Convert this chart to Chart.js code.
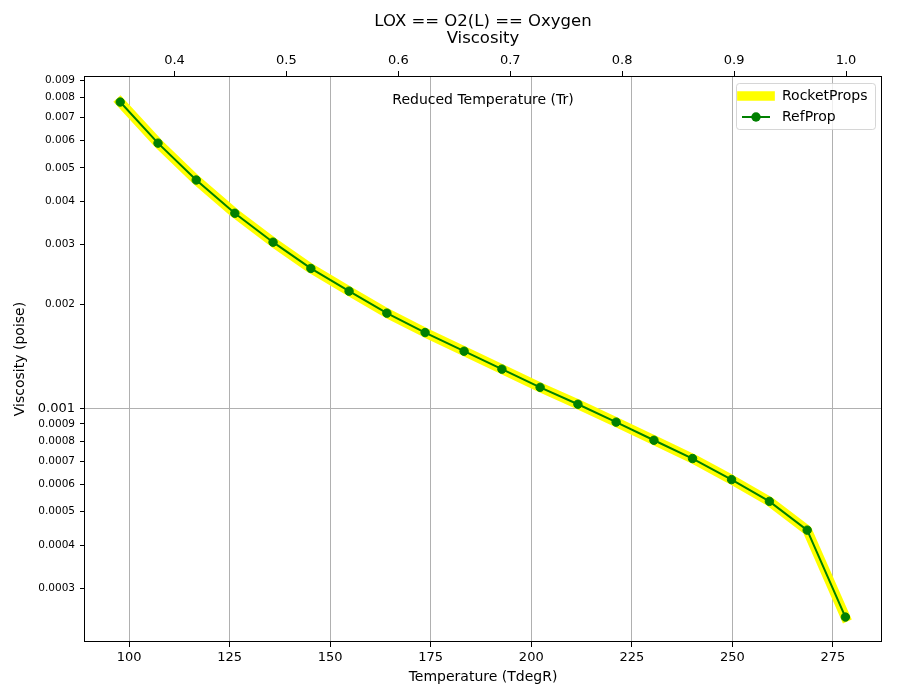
<!DOCTYPE html>
<html>
<head>
<meta charset="utf-8">
<script src="https://cdn.jsdelivr.net/npm/chart.js@4.4.1/dist/chart.umd.min.js"></script>
<style>
  html, body { margin: 0; padding: 0; background: #fff; }
</style>
</head>
<body>
<canvas id="viscChart" width="900" height="700"></canvas>
<script>
// temperatures (degR) and viscosities (poise)
const tempR = [97.8, 107.2, 116.7, 126.3, 135.8, 145.2, 154.7, 164.1, 173.6, 183.3,
               192.7, 202.2, 211.6, 221.1, 230.5, 240.1, 249.8, 259.2, 268.6, 278.1];
const refVisc = [0.00777, 0.00590, 0.00461, 0.00369, 0.00304, 0.00255, 0.00219, 0.00189, 0.00166, 0.001465,
                 0.001299, 0.00115, 0.001027, 0.000911, 0.000807, 0.000714, 0.000620, 0.000536, 0.000442, 0.000247];
const rocketVisc = [0.00777, 0.00590, 0.00461, 0.00369, 0.00304, 0.00255, 0.00219, 0.00189, 0.00166, 0.001465,
                    0.001299, 0.00115, 0.001027, 0.000911, 0.000807, 0.000714, 0.000620, 0.000536, 0.000442, 0.000247];

const xTicks = [100, 125, 150, 175, 200, 225, 250, 275];
const trTicks = [0.4, 0.5, 0.6, 0.7, 0.8, 0.9, 1.0];
const yTicks = [0.0003, 0.0004, 0.0005, 0.0006, 0.0007, 0.0008, 0.0009, 0.001,
                0.002, 0.003, 0.004, 0.005, 0.006, 0.007, 0.008, 0.009];

const T_CRIT = 278.25;
const X_MIN = 88.8, X_MAX = 287.2;
const Y_MIN = 0.000209, Y_MAX = 0.00925;

Chart.defaults.font.family = 'DejaVu Sans';
Chart.defaults.color = '#000';

// matplotlib-ish frame, inner axis label and legend box
const mplDecor = {
  id: 'mplDecor',
  afterDatasetsDraw(chart) {
    const { ctx, chartArea: a } = chart;
    ctx.save();
    ctx.strokeStyle = '#000';
    ctx.lineWidth = 1;
    ctx.strokeRect(a.left + 0.5, a.top + 0.5, a.right - a.left - 1, a.bottom - a.top - 1);

    ctx.fillStyle = '#000';
    ctx.font = '14px "DejaVu Sans"';
    ctx.textAlign = 'center';
    ctx.textBaseline = 'middle';
    ctx.fillText('Reduced Temperature (Tr)', (a.left + a.right) / 2, a.top + 24);

    // legend
    const lx = a.right - 146, ly = a.top + 7, lw = 139, lh = 46;
    ctx.beginPath();
    ctx.roundRect(lx + 0.5, ly + 0.5, lw, lh, 3);
    ctx.fillStyle = 'rgba(255,255,255,0.8)';
    ctx.fill();
    ctx.strokeStyle = 'rgba(204,204,204,0.8)';
    ctx.stroke();

    chart.data.datasets.forEach((ds, i) => {
      const cy = ly + 13 + i * 21;
      const x0 = lx + 6, x1 = lx + 34;
      ctx.beginPath();
      ctx.moveTo(x0, cy);
      ctx.lineTo(x1, cy);
      ctx.strokeStyle = ds.borderColor;
      ctx.lineWidth = ds.borderWidth;
      ctx.lineCap = ds.borderCapStyle || 'butt';
      ctx.stroke();
      if (ds.pointRadius > 0) {
        ctx.beginPath();
        ctx.arc((x0 + x1) / 2, cy, ds.pointRadius + 0.5, 0, Math.PI * 2);
        ctx.fillStyle = ds.pointBackgroundColor;
        ctx.fill();
      }
      ctx.fillStyle = '#000';
      ctx.font = '14px "DejaVu Sans"';
      ctx.textAlign = 'left';
      ctx.fillText(ds.label, x1 + 12, cy);
    });
    ctx.restore();
  }
};

new Chart(document.getElementById('viscChart'), {
  type: 'line',
  data: {
    datasets: [
      {
        label: 'RocketProps',
        data: tempR.map((t, i) => ({ x: t, y: rocketVisc[i] })),
        borderColor: '#ffff00',
        borderWidth: 9.7,
        borderCapStyle: 'square',
        borderJoinStyle: 'round',
        pointRadius: 0,
        tension: 0,
        order: 2
      },
      {
        label: 'RefProp',
        data: tempR.map((t, i) => ({ x: t, y: refVisc[i] })),
        borderColor: '#008000',
        borderWidth: 2,
        pointRadius: 4.2,
        pointBackgroundColor: '#008000',
        pointBorderColor: '#008000',
        pointBorderWidth: 1,
        tension: 0,
        order: 1
      }
    ]
  },
  options: {
    responsive: false,
    animation: false,
    devicePixelRatio: 1,
    layout: { padding: { left: 0, right: 18, top: 0, bottom: 0 } },
    plugins: {
      legend: { display: false },
      tooltip: { enabled: false },
      title: {
        display: true,
        fullSize: false,
        text: ['LOX == O2(L) == Oxygen', 'Viscosity'],
        color: '#000',
        font: { size: 16.5, weight: 'normal', lineHeight: 1 },
        padding: { top: 13.5, bottom: 0 }
      }
    },
    scales: {
      x: {
        type: 'linear',
        position: 'bottom',
        min: X_MIN,
        max: X_MAX,
        afterBuildTicks: s => { s.ticks = xTicks.map(v => ({ value: v })); },
        afterFit: s => { s.height = 58; },
        ticks: { font: { size: 13 }, padding: 3, autoSkip: false, maxRotation: 0, callback: v => String(v) },
        grid: { color: '#b0b0b0', lineWidth: 1, tickColor: '#000', tickLength: 5 },
        border: { display: false },
        title: { display: true, text: 'Temperature (TdegR)', font: { size: 14 }, padding: { top: 0, bottom: 14 } }
      },
      x2: {
        type: 'linear',
        position: 'top',
        min: X_MIN / T_CRIT,
        max: X_MAX / T_CRIT,
        afterBuildTicks: s => { s.ticks = trTicks.map(v => ({ value: v })); },
        afterFit: s => { s.height = 29.5; },
        ticks: { font: { size: 13 }, padding: 3, autoSkip: false, maxRotation: 0, callback: v => v.toFixed(1) },
        grid: { drawOnChartArea: false, tickColor: '#000', tickLength: 5 },
        border: { display: false }
      },
      y: {
        type: 'logarithmic',
        position: 'left',
        min: Y_MIN,
        max: Y_MAX,
        afterBuildTicks: s => { s.ticks = yTicks.map(v => ({ value: v })); },
        afterFit: s => { s.width = 84; },
        ticks: {
          autoSkip: false,
          padding: 5,
          callback: v => String(v),
          font: c => (c.tick && c.tick.value === 0.001) ? { size: 13 } : { size: 10.5 }
        },
        grid: {
          color: c => (c.tick && c.tick.value === 0.001) ? '#b0b0b0' : 'rgba(0,0,0,0)',
          tickColor: '#000',
          tickLength: 4
        },
        border: { display: false },
        title: { display: true, text: 'Viscosity (poise)', font: { size: 14 }, padding: { top: 11.5, bottom: 0 } }
      }
    }
  },
  plugins: [mplDecor]
});
</script>
</body>
</html>
